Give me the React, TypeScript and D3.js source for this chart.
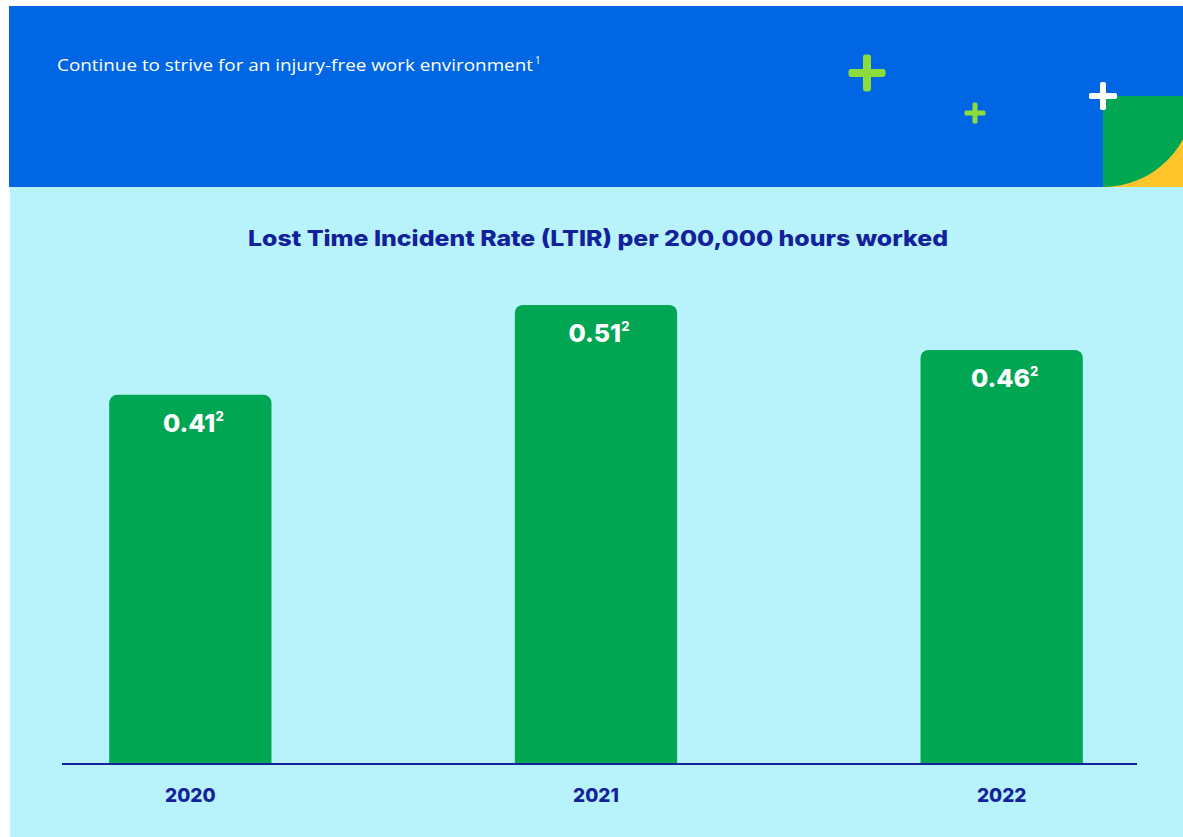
import React from "react";
import * as d3 from "d3";

const years: string[] = ["2020", "2021", "2022"];
const ltirValues: number[] = [0.41, 0.51, 0.46];
const valueLabels: string[] = ["0.41", "0.51", "0.46"];
const valueNote = "2";
const chartTitle = "Lost Time Incident Rate (LTIR) per 200,000 hours worked";
const headerText = "Continue to strive for an injury-free work environment";
const headerNote = "1";

const W = 1183;
const H = 837;

const BLUE = "#0066E4";
const CYAN = "#B8F2FA";
const GREEN = "#00A651";
const NAVY = "#13219A";
const LIME = "#8BDC3C";
const YELLOW = "#FFC52A";

function topRoundedRect(x: number, y: number, w: number, h: number, r: number) {
  const p = d3.path();
  p.moveTo(x, y + h);
  p.lineTo(x, y + r);
  p.arcTo(x, y, x + r, y, r);
  p.lineTo(x + w - r, y);
  p.arcTo(x + w, y, x + w, y + r, r);
  p.lineTo(x + w, y + h);
  p.closePath();
  return p.toString();
}

function cross(cx: number, cy: number, size: number, thick: number, color: string, key: string) {
  const r = thick / 2;
  return (
    <g key={key} fill={color}>
      <rect x={cx - size / 2} y={cy - thick / 2} width={size} height={thick} rx={r * 0.6} />
      <rect x={cx - thick / 2} y={cy - size / 2} width={thick} height={size} rx={r * 0.6} />
    </g>
  );
}

export default function App() {
  const baseline = 763;
  const x = d3
    .scaleBand<string>()
    .domain(years)
    .range([58.5, 1133.5])
    .paddingInner(0.6)
    .paddingOuter(0.125);
  const y = d3.scaleLinear().domain([0, 0.5]).range([baseline, baseline - 449]);

  const cornerX = 1103;
  const cornerY = 96;
  const cornerR = 91;
  const arc = d3.path();
  arc.moveTo(cornerX, cornerY);
  arc.lineTo(cornerX + cornerR, cornerY);
  arc.arc(cornerX, cornerY, cornerR, 0, Math.PI / 2, false);
  arc.closePath();

  return (
    <svg
      width={W}
      height={H}
      style={{ position: "absolute", left: 0, top: 0, display: "block" }}
    >
      <defs>
        <clipPath id="cornerClip">
          <rect x={cornerX} y={cornerY} width={W - cornerX} height={187 - cornerY} />
        </clipPath>
      </defs>
      <rect x={0} y={0} width={W} height={H} fill="#ffffff" />
      <rect x={9} y={6} width={W - 9} height={181} fill={BLUE} />
      <rect x={10} y={187} width={W - 10} height={H - 187} fill={CYAN} />
      <g clipPath="url(#cornerClip)">
        <rect x={cornerX} y={cornerY} width={W - cornerX} height={187 - cornerY} fill={YELLOW} />
        <path d={arc.toString()} fill={GREEN} />
      </g>
      {cross(867, 73, 37, 8, LIME, "c1")}
      {cross(975, 113, 21, 5, LIME, "c2")}
      {cross(1103, 96, 28, 6, "#ffffff", "c3")}
      <text
        x={57}
        y={71}
        fill="#ffffff"
        fontFamily="'Open Sans', Roboto, sans-serif"
        fontWeight={400}
        fontSize={17}
        textLength={476}
        lengthAdjust="spacingAndGlyphs"
      >
        {headerText}
      </text>
      <text x={535} y={64} fill="#ffffff" fontFamily="'Open Sans', sans-serif" fontSize={10}>
        {headerNote}
      </text>

      <text
        x={598}
        y={246}
        textAnchor="middle"
        fill={NAVY}
        fontFamily="Inter, 'Noto Sans', sans-serif"
        fontWeight={800}
        fontSize={22}
        textLength={700}
        lengthAdjust="spacingAndGlyphs"
      >
        {chartTitle}
      </text>

      {years.map((yr, i) => {
        const bx = x(yr)!;
        const bw = x.bandwidth();
        const by = y(ltirValues[i]);
        return (
          <g key={yr}>
            <path d={topRoundedRect(bx, by, bw, baseline - by, 8)} fill={GREEN} />
            <text
              x={bx + bw / 2 + 3}
              y={by + 37}
              textAnchor="middle"
              fill="#ffffff"
              fontFamily="Inter, 'Noto Sans', sans-serif"
              fontWeight={800}
              fontSize={25}
            >
              {valueLabels[i]}
              <tspan fontSize={13} dy={-11}>
                {valueNote}
              </tspan>
            </text>
            <text
              x={bx + bw / 2}
              y={802}
              textAnchor="middle"
              fill={NAVY}
              fontFamily="Inter, 'Noto Sans', sans-serif"
              fontWeight={800}
              fontSize={19}
            >
              {yr}
            </text>
          </g>
        );
      })}

      <line x1={62} x2={1137} y1={764} y2={764} stroke={NAVY} strokeWidth={2} />
    </svg>
  );
}
